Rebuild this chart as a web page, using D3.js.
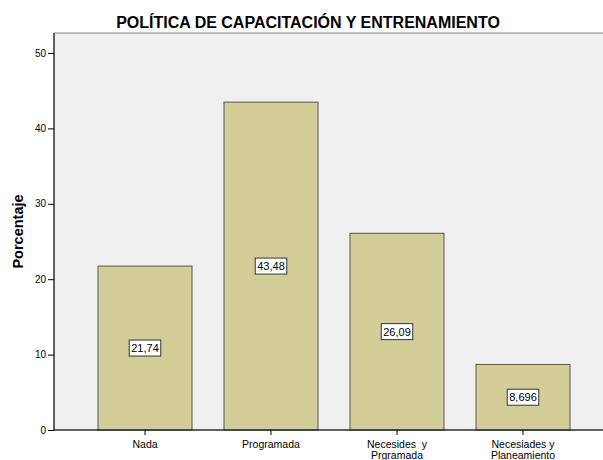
<!DOCTYPE html>
<html><head><meta charset="utf-8">
<script src="https://cdn.jsdelivr.net/npm/d3@7"></script>
<style>body{margin:0;background:#fff;} text{font-family:Arial,"Liberation Sans",sans-serif;}</style>
</head><body>
<svg id="c" width="603" height="460"></svg>
<script>
const categories = [["Nada"], ["Programada"], ["Necesides  y", "Prgramada"], ["Necesiades y", "Planeamiento"]];
const values = [21.74, 43.48, 26.09, 8.696];
const valueLabels = ["21,74", "43,48", "26,09", "8,696"];
const yTicks = [0, 10, 20, 30, 40, 50];
const title = "POLÍTICA DE CAPACITACIÓN Y ENTRENAMIENTO";
const yTitle = "Porcentaje";

const svg = d3.select("#c");
const L = 54, T = 33, R = 603, B = 430;
const y = d3.scaleLinear().domain([0, 52.65]).range([B, T]);
const x = d3.scaleBand().domain(d3.range(categories.length)).range([82, 586]).paddingInner(0.254).paddingOuter(0.127);

svg.append("rect").attr("x", L).attr("y", T).attr("width", R - L + 2).attr("height", B - T)
  .attr("fill", "#f0f0f0").attr("stroke", "#888").attr("stroke-width", 1);

svg.selectAll("rect.bar").data(values).join("rect").attr("class", "bar")
  .attr("x", (d, i) => x(i)).attr("y", d => y(d)).attr("width", x.bandwidth()).attr("height", d => B - y(d))
  .attr("fill", "#d3ce98").attr("stroke", "#555").attr("stroke-width", 1);

// value labels
const lg = svg.selectAll("g.lab").data(values).join("g").attr("class", "lab")
  .attr("transform", (d, i) => `translate(${x(i) + x.bandwidth() / 2},${(y(d) + B) / 2})`);
lg.append("text").attr("text-anchor", "middle").attr("dy", "0.36em").attr("font-size", 11).attr("fill", "#000")
  .text((d, i) => valueLabels[i]);
lg.each(function () {
  const g = d3.select(this);
  const bb = g.select("text").node().getBBox();
  g.insert("rect", "text").attr("x", bb.x - 2).attr("y", -8).attr("width", bb.width + 4).attr("height", 16)
    .attr("fill", "#fff").attr("stroke", "#333").attr("stroke-width", 1);
});

// y axis
const ya = svg.append("g").attr("transform", `translate(${L},0)`)
  .call(d3.axisLeft(y).tickValues(yTicks).tickSize(6).tickPadding(2));
ya.select(".domain").attr("stroke", "#000").attr("d", `M0,${T}V${B}`);
ya.selectAll("text").attr("font-size", 10).attr("fill", "#000").style("font-family", "Arial,'Liberation Sans',sans-serif");

// x axis
const xa = svg.append("g").attr("transform", `translate(0,${B})`)
  .call(d3.axisBottom(x).tickSize(5).tickFormat(""));
xa.select(".domain").attr("stroke", "#000").attr("d", `M${L},0H${R}`);
xa.selectAll(".tick").each(function (d) {
  const t = d3.select(this).select("text").attr("font-size", 10.5).attr("fill", "#000").attr("y", 0).attr("dy", null)
    .style("font-family", "Arial,'Liberation Sans',sans-serif").style("white-space", "pre");
  categories[d].forEach((s, k) => t.append("tspan").attr("x", 0).attr("y", 18 + k * 11).text(s));
});

svg.append("text").attr("x", 308).attr("y", 28).attr("text-anchor", "middle")
  .attr("font-size", 16).attr("font-weight", "bold").text(title);
svg.append("text").attr("transform", `translate(23,${(T + B) / 2}) rotate(-90)`).attr("text-anchor", "middle")
  .attr("font-size", 14.5).attr("font-weight", "bold").text(yTitle);
</script>
</body></html>
